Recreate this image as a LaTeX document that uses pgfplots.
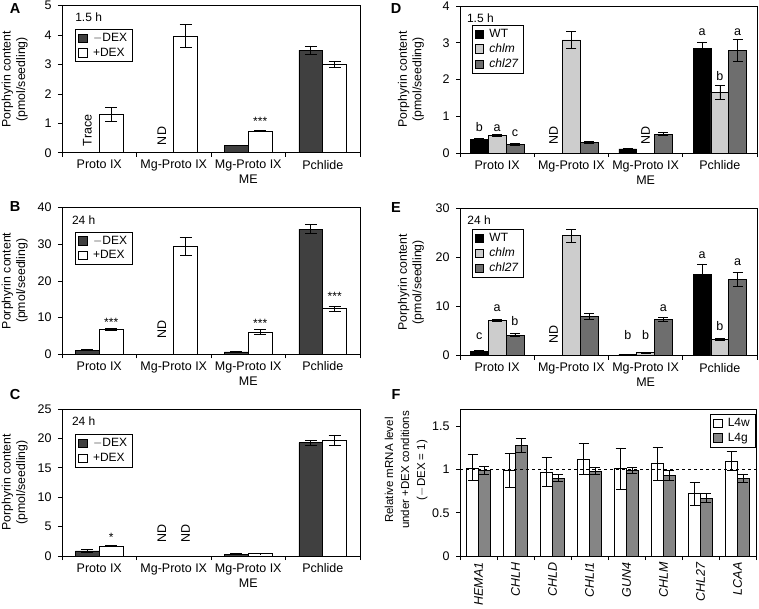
\documentclass[border=0pt]{standalone}
\usepackage{pgfplots}
\pgfplotsset{compat=1.18}
\usepackage{fontspec}
\setmainfont{Liberation Sans}
\definecolor{dexdark}{HTML}{404040}
\definecolor{chlmgray}{HTML}{CDCDCD}
\definecolor{chlgray}{HTML}{6E6E6E}
\definecolor{lfourg}{HTML}{858585}
\newcommand{\tickfont}{\fontsize{12.5}{15}\selectfont}
\newcommand{\labfont}{\fontsize{12.3}{14.5}\selectfont}
\newcommand{\legfont}{\fontsize{12}{14}\selectfont}
\newcommand{\letfont}{\bfseries\fontsize{14.5}{14.5}\selectfont}
\tikzset{
  nd/.style={rotate=90, anchor=west, inner ysep=0pt, font=\tickfont},
  ast/.style={anchor=base, inner sep=0pt, font=\legfont},
  lt/.style={anchor=base, inner sep=0pt, font=\tickfont},
  cond/.style={anchor=west, inner sep=0pt, font=\legfont},
}
\pgfplotsset{
  sq/.style={legend image code/.code={\draw[##1,/tikz/.cd,draw=black,line width=0.6pt,solid] (0pt,-4.2pt) rectangle (8.4pt,4.2pt); \path (12pt,0pt);}},
  errs/.style={error bars/.cd, y dir=both, y explicit,
     error bar style={black, line width=0.7pt},
     error mark options={black, rotate=90, mark size=#1, line width=0.7pt}},
  errs/.default=5pt,
  bk/.style={draw=black, line width=0.6pt},
  base/.style={
    scale only axis, anchor=south west, height=147pt,
    ymin=0, axis line style={line width=0.7pt, black},
    tick align=outside, tick pos=left,
    major tick length=4pt, minor tick length=4pt,
    tick style={black, line width=0.7pt},
    y tick label style={font=\tickfont, xshift=-3pt},
    /pgf/number format/assume math mode=true,
    ybar=0pt,
    legend cell align=left,
    legend style={draw=black, line width=0.6pt, font=\legfont, inner xsep=3pt, inner ysep=2pt, row sep=1pt, anchor=north west},
    every axis y label/.style={rotate=90, anchor=center, align=center, font=\labfont},
  },
  porph/.style={base, width=298pt, bar width=0.32,
    xmin=-0.5, xmax=3.5,
    xtick={-0.5,0.5,1.5,2.5,3.5}, xticklabels={},
    extra x ticks={0,1,2,3},
    extra x tick labels={Proto IX, Mg-Proto IX, Mg-Proto IX\\ME, Pchlide},
    extra x tick style={major tick length=0pt, tick label style={font=\tickfont, align=center, yshift=-4pt}},
    ylabel={Porphyrin content\\(pmol/seedling)},
    every axis y label/.append style={at={(axis description cs:-0.159,0.5)}},
  },
}
\begin{document}
\begin{tikzpicture}
\useasboundingbox (0,0) rectangle (759pt,-608pt);
% ---------- A ----------
\begin{axis}[porph, at={(62pt,-152.7pt)}, ymax=5, ytick={0,1,2,3,4,5},
  legend style={at={(0.044,0.842)}}]
\addplot[fill=dexdark, bk, sq, errs=6pt] coordinates {(2,0.25) +- (0,0.015) (3,3.49) +- (0,0.14)};
\addplot[fill=white, bk, sq, errs=6pt] coordinates {(0,1.30) +- (0,0.25) (1,3.97) +- (0,0.39) (2,0.73) +- (0,0.02) (3,3.01) +- (0,0.10)};
\legend{$-$DEX, +DEX}
\node[nd, inner xsep=6.5pt] at (axis cs:-0.16,0) {Trace};
\node[nd, inner xsep=7.5pt] at (axis cs:0.84,0) {ND};
\node[ast] at (axis cs:2.16,0.92) {***};
\node[cond] at (rel axis cs:0.044,0.92) {1.5 h};
\end{axis}
% ---------- B ----------
\begin{axis}[porph, at={(62pt,-354.4pt)}, ymax=40, ytick={0,10,20,30,40},
  legend style={at={(0.044,0.836)}}]
\addplot[fill=dexdark, bk, sq, errs=6pt] coordinates {(0,1.18) +- (0,0.2) (2,0.7) +- (0,0.1) (3,34.1) +- (0,1.2)};
\addplot[fill=white, bk, sq, errs=6pt] coordinates {(0,6.8) +- (0,0.3) (1,29.45) +- (0,2.45) (2,6.1) +- (0,0.6) (3,12.45) +- (0,0.65)};
\legend{$-$DEX, +DEX}
\node[nd, inner xsep=16pt] at (axis cs:0.84,0) {ND};
\node[ast] at (axis cs:0.16,7.6) {***};
\node[ast] at (axis cs:2.16,7.2) {***};
\node[ast] at (axis cs:3.16,14.65) {***};
\node[cond] at (rel axis cs:0.033,0.916) {24 h};
\end{axis}
% ---------- C ----------
\begin{axis}[porph, at={(62pt,-556pt)}, ymax=25, ytick={0,5,10,15,20,25},
  legend style={at={(0.044,0.829)}}]
\addplot[fill=dexdark, bk, sq, errs=6pt] coordinates {(0,0.86) +- (0,0.2) (2,0.34) +- (0,0.03) (3,19.3) +- (0,0.4)};
\addplot[fill=white, bk, sq, errs=6pt] coordinates {(0,1.71) +- (0,0.15) (2,0.40) +- (0,0.03) (3,19.75) +- (0,0.85)};
\legend{$-$DEX, +DEX}
\node[nd, inner xsep=13pt] at (axis cs:0.84,0) {ND};
\node[nd, inner xsep=13pt] at (axis cs:1.16,0) {ND};
\node[ast] at (axis cs:0.16,2.5) {*};
\node[cond] at (rel axis cs:0.033,0.92) {24 h};
\end{axis}
% ---------- D ----------
\begin{axis}[porph, width=297pt, bar width=0.24, at={(460pt,-153pt)}, ymax=4, ytick={0,1,2,3,4},
  every axis y label/.append style={at={(axis description cs:-0.165,0.5)}},
  legend style={at={(0.039,0.872)}}]
\addplot[fill=black, bk, sq, errs=5pt] coordinates {(0,0.38) +- (0,0.01) (2,0.11) +- (0,0.005) (3,2.85) +- (0,0.17)};
\addplot[fill=chlmgray, bk, sq, errs=5pt] coordinates {(0,0.48) +- (0,0.015) (1,3.08) +- (0,0.23) (3,1.64) +- (0,0.19)};
\addplot[fill=chlgray, bk, sq, errs=5pt] coordinates {(0,0.23) +- (0,0.03) (1,0.29) +- (0,0.03) (2,0.51) +- (0,0.04) (3,2.80) +- (0,0.30)};
\legend{WT, \textit{chlm}, \textit{chl27}}
\node[nd, inner xsep=8pt] at (axis cs:0.76,0) {ND};
\node[nd, inner xsep=8pt] at (axis cs:2,0) {ND};
\node[lt] at (axis cs:-0.24,0.58) {b};
\node[lt] at (axis cs:0,0.58) {a};
\node[lt] at (axis cs:0.24,0.45) {c};
\node[lt] at (axis cs:2.76,3.2) {a};
\node[lt] at (axis cs:3,1.98) {b};
\node[lt] at (axis cs:3.24,3.2) {a};
\node[cond] at (rel axis cs:0.023,0.919) {1.5 h};
\end{axis}
% ---------- E ----------
\begin{axis}[porph, width=297pt, bar width=0.24, at={(460pt,-355.6pt)}, ymax=30, ytick={0,10,20,30},
  every axis y label/.append style={at={(axis description cs:-0.165,0.5)}},
  legend style={at={(0.039,0.862)}}]
\addplot[fill=black, bk, sq, errs=5pt] coordinates {(0,0.9) +- (0,0.2) (2,0.25) +- (0,0.05) (3,16.5) +- (0,2.2)};
\addplot[fill=chlmgray, bk, sq, errs=5pt] coordinates {(0,7.2) +- (0,0.15) (1,24.5) +- (0,1.3) (2,0.6) +- (0,0.05) (3,3.3) +- (0,0.2)};
\addplot[fill=chlgray, bk, sq, errs=5pt] coordinates {(0,4.2) +- (0,0.3) (1,8.0) +- (0,0.6) (2,7.4) +- (0,0.4) (3,15.5) +- (0,1.4)};
\legend{WT, \textit{chlm}, \textit{chl27}}
\node[nd, inner xsep=12pt] at (axis cs:0.76,0) {ND};
\node[lt] at (axis cs:-0.24,3.2) {c};
\node[lt] at (axis cs:0,8.9) {a};
\node[lt] at (axis cs:0.24,6.2) {b};
\node[lt] at (axis cs:1.76,3.2) {b};
\node[lt] at (axis cs:2,3.2) {b};
\node[lt] at (axis cs:2.24,8.9) {a};
\node[lt] at (axis cs:2.76,19.8) {a};
\node[lt] at (axis cs:3,5.2) {b};
\node[lt] at (axis cs:3.24,18.4) {a};
\node[cond] at (rel axis cs:0.024,0.92) {24 h};
\end{axis}
% ---------- F ----------
\begin{axis}[base, width=296pt, bar width=0.32, at={(460pt,-556pt)},
  xmin=-0.5, xmax=7.5, ymax=1.7, ytick={0,0.5,1,1.5},
  xtick={-0.5,0.5,...,7.5}, xticklabels={},
  extra x ticks={0,1,2,3,4,5,6,7},
  extra x tick labels={HEMA1, CHLH, CHLD, CHLI1, GUN4, CHLM, CHL27, LCAA},
  extra x tick style={major tick length=0pt, tick label style={yshift=-3pt, rotate=90, anchor=east, font=\itshape\tickfont}},
  ylabel={Relative mRNA level\\under +DEX conditions\\($-$DEX = 1)},
  every axis y label/.append style={at={(axis description cs:-0.182,0.585)}, font=\fontsize{11.5}{16}\selectfont},
  legend style={at={(0.997,0.966)}, anchor=north east}]
\addplot[fill=white, bk, sq, errs=5pt] coordinates {(0,1.02) +- (0,0.15) (1,0.99) +- (0,0.20) (2,0.97) +- (0,0.17) (3,1.12) +- (0,0.18) (4,1.01) +- (0,0.24) (5,1.07) +- (0,0.19) (6,0.72) +- (0,0.13) (7,1.10) +- (0,0.11)};
\addplot[fill=lfourg, bk, sq, errs=5pt] coordinates {(0,0.99) +- (0,0.05) (1,1.28) +- (0,0.08) (2,0.90) +- (0,0.04) (3,0.98) +- (0,0.04) (4,0.99) +- (0,0.03) (5,0.93) +- (0,0.06) (6,0.67) +- (0,0.05) (7,0.90) +- (0,0.05)};
\legend{L4w, L4g}
\draw[black, dashed, line width=0.6pt] (axis cs:-0.5,1) -- (axis cs:7.5,1);
\end{axis}
% ---------- panel letters ----------
\node[font=\letfont] at (15pt,-8.5pt) {A};
\node[font=\letfont] at (15pt,-207pt) {B};
\node[font=\letfont] at (15pt,-395pt) {C};
\node[font=\letfont] at (396pt,-9pt) {D};
\node[font=\letfont] at (396pt,-207.5pt) {E};
\node[font=\letfont] at (396pt,-395pt) {F};
\end{tikzpicture}
\end{document}
